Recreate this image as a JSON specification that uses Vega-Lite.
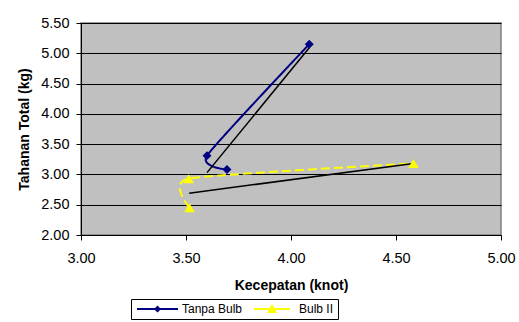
{
  "$schema": "https://vega.github.io/schema/vega-lite/v6.json",
  "width": 420,
  "height": 212,
  "autosize": {"type": "none"},
  "padding": {"left": 81, "top": 23, "right": 18, "bottom": 87},
  "background": "white",
  "config": {
    "font": "Liberation Sans",
    "view": {"fill": "#C0C0C0", "stroke": "#808080", "strokeWidth": 1.5},
    "axis": {"labelColor": "black", "titleColor": "black", "tickColor": "black", "domainColor": "black", "labelFont": "Liberation Sans", "titleFont": "Liberation Sans"}
  },
  "datasets": {
    "pts": [
      {"series": "Tanpa Bulb", "ord": 1, "kecepatan": 4.087, "tahanan": 5.15},
      {"series": "Tanpa Bulb", "ord": 2, "kecepatan": 3.6, "tahanan": 3.31},
      {"series": "Tanpa Bulb", "ord": 3, "kecepatan": 3.695, "tahanan": 3.08},
      {"series": "Bulb II", "ord": 1, "kecepatan": 3.517, "tahanan": 2.45},
      {"series": "Bulb II", "ord": 2, "kecepatan": 3.513, "tahanan": 2.93},
      {"series": "Bulb II", "ord": 3, "kecepatan": 4.583, "tahanan": 3.18}
    ],
    "trend": [
      {"series": "Tanpa Bulb", "kecepatan": 3.6, "tahanan": 3.03},
      {"series": "Tanpa Bulb", "kecepatan": 4.087, "tahanan": 5.09},
      {"series": "Bulb II", "kecepatan": 3.515, "tahanan": 2.69},
      {"series": "Bulb II", "kecepatan": 4.583, "tahanan": 3.18}
    ]
  },
  "encoding": {
    "x": {
      "field": "kecepatan", "type": "quantitative",
      "scale": {"domain": [3, 5], "nice": false, "zero": false},
      "axis": {
        "title": "Kecepatan (knot)", "values": [3, 3.5, 4, 4.5, 5], "format": ".2f",
        "grid": false, "tickSize": 5, "labelFontSize": 14.5, "labelPadding": 11,
        "titleFontSize": 14, "titleFontWeight": "bold", "titlePadding": 14, "labelFlush": false
      }
    },
    "y": {
      "field": "tahanan", "type": "quantitative",
      "scale": {"domain": [2, 5.5], "nice": false, "zero": false},
      "axis": {
        "title": "Tahanan Total (kg)", "values": [2, 2.5, 3, 3.5, 4, 4.5, 5, 5.5], "format": ".2f",
        "grid": true, "gridColor": "black", "gridOpacity": 1, "gridWidth": 1,
        "tickSize": 5, "labelFontSize": 14.5, "labelPadding": 7,
        "titleFontSize": 14, "titleFontWeight": "bold", "titlePadding": 9, "labelFlush": false
      }
    }
  },
  "resolve": {"scale": {"color": "independent"}, "legend": {"color": "independent"}},
  "layer": [
    {
      "data": {"name": "pts"},
      "mark": {"type": "line", "interpolate": "cardinal", "tension": 0.45, "strokeWidth": 2},
      "encoding": {
        "order": {"field": "ord"},
        "color": {
          "field": "series", "type": "nominal",
          "scale": {"domain": ["Tanpa Bulb", "Bulb II"], "range": ["#000080", "#FFFF00"]},
          "legend": {
            "title": null, "orient": "none", "legendX": 50, "legendY": 276,
            "direction": "horizontal", "columns": 2,
            "strokeColor": "black", "fillColor": "white", "padding": 4,
            "labelFontSize": 12, "labelColor": "black", "labelFont": "Liberation Sans",
            "columnPadding": 9, "labelOffset": 35, "symbolStrokeWidth": 0,
            "encode": {
              "symbols": {
                "update": {
                  "shape": {"signal": "datum.value === 'Tanpa Bulb' ? 'M-0.8,-0.2H7.4V0.2H-0.8ZM3.3,-0.7L4,0L3.3,0.7L2.6,0Z' : 'M-0.8,-0.2H6.4V0.2H-0.8ZM2.8,-1L3.8,0.8L1.8,0.8Z'"},
                  "size": {"value": 100},
                  "fill": {"signal": "datum.value === 'Tanpa Bulb' ? '#000080' : '#FFFF00'"},
                  "strokeWidth": {"value": 0},
                  "opacity": {"value": 1}
                }
              }
            }
          }
        },
        "strokeDash": {
          "field": "series", "type": "nominal",
          "scale": {"domain": ["Tanpa Bulb", "Bulb II"], "range": [[1, 0], [9, 4]]},
          "legend": null
        }
      }
    },
    {
      "data": {"name": "trend"},
      "mark": {"type": "line", "color": "black", "strokeWidth": 1.5},
      "encoding": {"detail": {"field": "series"}}
    },
    {
      "data": {"name": "pts"},
      "mark": {"type": "point", "filled": true, "opacity": 1},
      "encoding": {
        "color": {
          "field": "series", "type": "nominal",
          "scale": {"domain": ["Tanpa Bulb", "Bulb II"], "range": ["#000080", "#FFFF00"]},
          "legend": null
        },
        "shape": {
          "field": "series", "type": "nominal",
          "scale": {"domain": ["Tanpa Bulb", "Bulb II"], "range": ["diamond", "triangle-up"]},
          "legend": null
        },
        "size": {
          "field": "series", "type": "nominal",
          "scale": {"domain": ["Tanpa Bulb", "Bulb II"], "range": [80, 110]},
          "legend": null
        }
      }
    }
  ]
}
